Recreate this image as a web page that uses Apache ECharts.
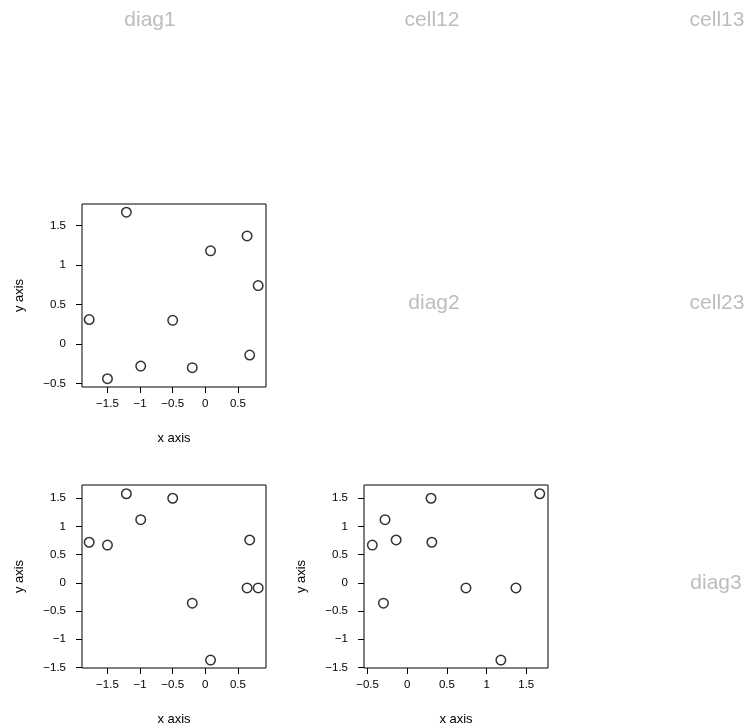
<!DOCTYPE html>
<html>
<head>
<meta charset="utf-8">
<script src="https://cdn.jsdelivr.net/npm/echarts@6/dist/echarts.min.js"></script>
<style>
  html, body { margin: 0; padding: 0; background: #ffffff; }
  #chart { width: 750px; height: 727px; }
</style>
</head>
<body>
<div id="chart"></div>
<script>
// Three variables, ten observations each
const v1 = [-1.78, -1.50, -1.21, -0.99, -0.50, -0.20, 0.08, 0.64, 0.68, 0.81];
const v2 = [0.31, -0.44, 1.67, -0.28, 0.30, -0.30, 1.18, 1.37, -0.14, 0.74];
const v3 = [0.72, 0.67, 1.58, 1.12, 1.50, -0.36, -1.37, -0.09, 0.76, -0.09];

// Axis limits for each variable
const limV1 = [-1.89, 0.93];
const limV2 = [-0.545, 1.774];
const limV3 = [-1.51, 1.735];

// Tick values for each variable's axis
const ticksV1 = [-1.5, -1, -0.5, 0, 0.5];
const ticksV2 = [-0.5, 0, 0.5, 1, 1.5];
const ticksV3 = [-1.5, -1, -0.5, 0, 0.5, 1, 1.5];

// Text shown in the cells without a scatter panel
const cellLabels = ['diag1', 'cell12', 'cell13', 'diag2', 'cell23', 'diag3'];

const FONT = '"Liberation Sans", Arial, Helvetica, sans-serif';

const fmt = v => String(v).replace('-', '\u2212');

function makeAxis(kind, idx, lim, ticks) {
  return {
    type: 'value',
    gridIndex: idx,
    min: lim[0],
    max: lim[1],
    name: kind === 'x' ? 'x axis' : 'y axis',
    nameLocation: 'middle',
    nameGap: kind === 'x' ? 45 : 56,
    nameTextStyle: { color: '#000', fontSize: 13, fontFamily: FONT },
    axisLine: { show: false, onZero: false },
    splitLine: { show: false },
    axisTick: {
      show: true,
      inside: false,
      length: 6,
      customValues: ticks,
      lineStyle: { color: '#000', width: 1 }
    },
    axisLabel: {
      show: true,
      customValues: ticks,
      margin: kind === 'x' ? 11 : 16,
      color: '#000',
      fontSize: 11.5,
      fontFamily: FONT,
      formatter: fmt
    }
  };
}

// Panel boxes (row 2 col 1, row 3 col 1, row 3 col 2)
const panels = [
  { x: v1, y: v2, xl: limV1, yl: limV2, xt: ticksV1, yt: ticksV2, box: { left: 82, top: 204, width: 184, height: 183 } },
  { x: v1, y: v3, xl: limV1, yl: limV3, xt: ticksV1, yt: ticksV3, box: { left: 82, top: 485, width: 184, height: 184 } },
  { x: v2, y: v3, xl: limV2, yl: limV3, xt: ticksV2, yt: ticksV3, box: { left: 364, top: 485, width: 184, height: 184 } }
];

const grid = [], xAxis = [], yAxis = [], series = [];
panels.forEach((p, i) => {
  grid.push(Object.assign({ show: true, borderColor: '#000', borderWidth: 1, backgroundColor: 'transparent' }, p.box));
  xAxis.push(makeAxis('x', i, p.xl, p.xt));
  yAxis.push(makeAxis('y', i, p.yl, p.yt));
  series.push({
    type: 'scatter',
    xAxisIndex: i,
    yAxisIndex: i,
    symbol: 'circle',
    symbolSize: 9.5,
    silent: true,
    itemStyle: { color: 'rgba(0,0,0,0)', borderColor: '#000', borderWidth: 1.5 },
    data: p.x.map((xv, k) => [xv, p.y[k]])
  });
});

// Cell label centres
const labelPos = [[150, 20], [432, 20], [717, 20], [434, 303], [717, 303], [716, 583]];
const graphic = cellLabels.map((t, i) => ({
  type: 'text',
  x: labelPos[i][0],
  y: labelPos[i][1],
  style: {
    text: t,
    fill: '#bdbdbd',
    font: '21px ' + FONT,
    align: 'center',
    verticalAlign: 'middle'
  }
}));

const chart = echarts.init(document.getElementById('chart'), null, { renderer: 'canvas' });
chart.setOption({
  animation: false,
  backgroundColor: '#ffffff',
  grid, xAxis, yAxis, series, graphic
});
</script>
</body>
</html>
